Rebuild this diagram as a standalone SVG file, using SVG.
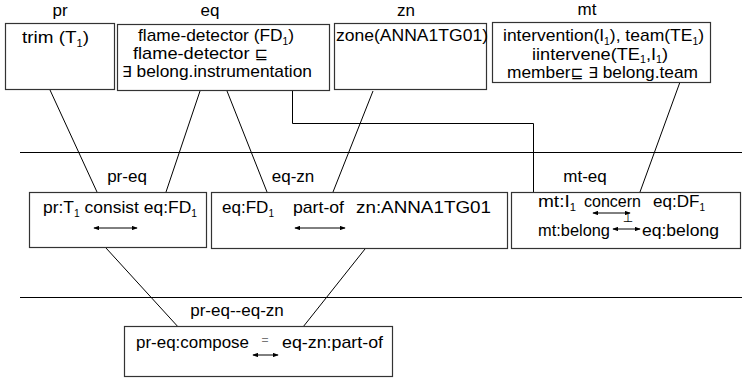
<svg xmlns="http://www.w3.org/2000/svg" width="742" height="379" viewBox="0 0 742 379">
<style>
text{font-family:"Liberation Sans",Arial,sans-serif;font-size:17px;fill:#000}
.box{fill:#fff;stroke:#333;stroke-width:1.2}
.ln{stroke:#000;stroke-width:1;fill:none}
.sub{font-size:10px}
.sym{font-family:"DejaVu Sans",sans-serif;font-size:15px}
.arr{stroke:#000;stroke-width:1;fill:none;marker-start:url(#ah);marker-end:url(#ah)}
</style>
<defs>
<marker id="ah" viewBox="0 0 8 6" refX="7" refY="3" markerWidth="6" markerHeight="4.5" orient="auto-start-reverse" markerUnits="userSpaceOnUse">
<path d="M0,0 L8,3 L0,6 Z" fill="#000"/>
</marker>
</defs>
<rect width="742" height="379" fill="#fff"/>
<g id="separators">
<line class="ln" x1="20" y1="152.5" x2="742" y2="152.5"/>
<line class="ln" x1="20" y1="297.5" x2="742" y2="297.5"/>
</g>
<g id="connectors">
<line class="ln" x1="50" y1="90" x2="97" y2="192"/>
<line class="ln" x1="200" y1="91" x2="166" y2="192"/>
<line class="ln" x1="227" y1="91" x2="267" y2="192"/>
<polyline class="ln" points="292.5,91 292.5,123.5 533.5,123.5 533.5,192"/>
<line class="ln" x1="373" y1="91" x2="333" y2="192"/>
<line class="ln" x1="680" y1="82" x2="640" y2="192"/>
<line class="ln" x1="106" y1="248" x2="180" y2="329"/>
<line class="ln" x1="365" y1="249" x2="303" y2="327"/>
</g>
<g id="pr">
<rect class="box" x="5.5" y="23.5" width="109" height="66"/>
<text x="60" y="16" text-anchor="middle">pr</text>
<text x="22" y="43" textLength="67" lengthAdjust="spacingAndGlyphs">trim (T<tspan class="sub" dy="4">1</tspan><tspan dy="-4">)</tspan></text>
</g>
<g id="eq">
<rect class="box" x="117.5" y="24.5" width="212" height="66"/>
<text x="210" y="16" text-anchor="middle">eq</text>
<text x="138" y="41" textLength="156" lengthAdjust="spacingAndGlyphs">flame-detector (FD<tspan class="sub" dy="4">1</tspan><tspan dy="-4">)</tspan></text>
<text x="133" y="59" textLength="135" lengthAdjust="spacingAndGlyphs">flame-detector <tspan class="sym">⊑</tspan></text>
<text x="122" y="77" textLength="190" lengthAdjust="spacingAndGlyphs"><tspan class="sym">∃</tspan> belong.instrumentation</text>
</g>
<g id="zn">
<rect class="box" x="334.5" y="23.5" width="152" height="66"/>
<text x="406" y="16" text-anchor="middle">zn</text>
<text x="336" y="41" textLength="152" lengthAdjust="spacingAndGlyphs">zone(ANNA1TG01)</text>
</g>
<g id="mt">
<rect class="box" x="492.5" y="22.5" width="218" height="60"/>
<text x="587" y="15" text-anchor="middle">mt</text>
<text x="503" y="41" textLength="201" lengthAdjust="spacingAndGlyphs">intervention(I<tspan class="sub" dy="4">1</tspan><tspan dy="-4">), team(TE</tspan><tspan class="sub" dy="4">1</tspan><tspan dy="-4">)</tspan></text>
<text x="532" y="60" textLength="136" lengthAdjust="spacingAndGlyphs">iintervene(TE<tspan class="sub" dy="3">1</tspan><tspan dy="-3">,I</tspan><tspan class="sub" dy="3">1</tspan><tspan dy="-3">)</tspan></text>
<text x="507" y="78" textLength="191" lengthAdjust="spacingAndGlyphs">member<tspan class="sym">⊑</tspan> <tspan class="sym">∃</tspan> belong.team</text>
</g>
<g id="pr-eq">
<rect class="box" x="29.5" y="192.5" width="177" height="55"/>
<text x="127" y="182" text-anchor="middle">pr-eq</text>
<text x="43" y="213" textLength="154" lengthAdjust="spacingAndGlyphs">pr:T<tspan class="sub" dy="4">1</tspan><tspan dy="-4"> consist eq:FD</tspan><tspan class="sub" dy="4">1</tspan></text>
<line class="arr" x1="94" y1="228" x2="137" y2="228"/>
</g>
<g id="eq-zn">
<rect class="box" x="211.5" y="192.5" width="296" height="56"/>
<text x="293" y="182" text-anchor="middle">eq-zn</text>
<text x="222" y="213" textLength="52" lengthAdjust="spacingAndGlyphs">eq:FD<tspan class="sub" dy="4">1</tspan></text>
<text x="293" y="213" textLength="51" lengthAdjust="spacingAndGlyphs">part-of</text>
<text x="356" y="213" textLength="135" lengthAdjust="spacingAndGlyphs">zn:ANNA1TG01</text>
<line class="arr" x1="295" y1="228" x2="345" y2="228"/>
</g>
<g id="mt-eq">
<rect class="box" x="511.5" y="192.5" width="229" height="56"/>
<text x="585" y="182" text-anchor="middle">mt-eq</text>
<text x="538" y="207" textLength="38" lengthAdjust="spacingAndGlyphs">mt:I<tspan class="sub" dy="4">1</tspan></text>
<text x="584" y="207" textLength="57" lengthAdjust="spacingAndGlyphs">concern</text>
<text x="653" y="207" textLength="52" lengthAdjust="spacingAndGlyphs">eq:DF<tspan class="sub" dy="4">1</tspan></text>
<line class="arr" x1="593" y1="213" x2="630" y2="213"/>
<text class="sym" x="628" y="222" text-anchor="middle" style="font-size:12px">⊥</text>
<text x="538" y="236" textLength="72" lengthAdjust="spacingAndGlyphs">mt:belong</text>
<line class="arr" x1="613" y1="229" x2="640" y2="229"/>
<text x="642" y="236" textLength="77" lengthAdjust="spacingAndGlyphs">eq:belong</text>
</g>
<g id="pr-eq--eq-zn">
<rect class="box" x="124.5" y="326.5" width="268" height="50"/>
<text x="237" y="316" text-anchor="middle">pr-eq--eq-zn</text>
<text x="136" y="348" textLength="113" lengthAdjust="spacingAndGlyphs">pr-eq:compose</text>
<text x="265" y="344" text-anchor="middle" style="font-size:12px;fill:#777">=</text>
<line class="arr" x1="253" y1="355" x2="278" y2="355"/>
<text x="282" y="348" textLength="101" lengthAdjust="spacingAndGlyphs">eq-zn:part-of</text>
</g>
</svg>
